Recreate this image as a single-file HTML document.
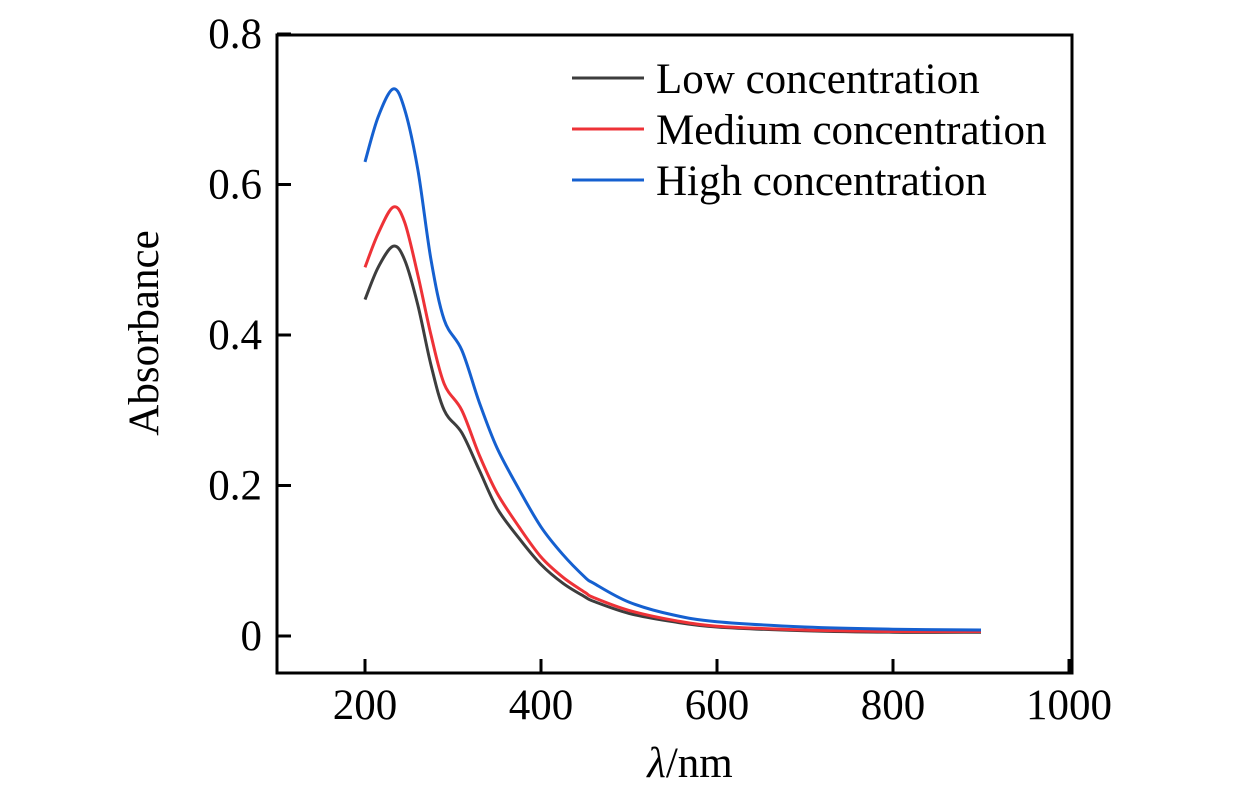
<!DOCTYPE html>
<html><head><meta charset="utf-8"><style>
body{margin:0;background:#fff}
svg{display:block;font-family:"Liberation Serif",serif}
</style></head><body>
<svg id="c" width="1260" height="787">
<g id="series"></g>
<rect x="277" y="35" width="795" height="638" fill="none" stroke="#000" stroke-width="3"/>
<g id="axes"></g>
<text x="158" y="333" font-size="43" text-anchor="middle" transform="rotate(-90 158 333)">Absorbance</text>
<text x="690" y="777" font-size="43" text-anchor="middle"><tspan font-style="italic">λ</tspan>/nm</text>
<g id="legend"></g>
</svg>
<script>
const xTicks=[200,400,600,800,1000];
const yTicks=[0,0.2,0.4,0.6,0.8];
const yTickLabels=["0","0.2","0.4","0.6","0.8"];
const seriesNames=["Low concentration","Medium concentration","High concentration"];
const seriesColors=["#3d3d3d","#ee3237","#1560d0"];
const wavelengths=[200,215,232,245,260,275,290,310,330,350,375,400,425,450,460,500,550,600,700,800,900];
const lowValues=[0.447,0.49,0.518,0.50,0.44,0.36,0.30,0.27,0.22,0.17,0.13,0.095,0.07,0.052,0.046,0.03,0.019,0.012,0.007,0.005,0.005];
const mediumValues=[0.49,0.535,0.57,0.55,0.48,0.40,0.335,0.30,0.24,0.19,0.145,0.105,0.078,0.058,0.051,0.034,0.021,0.013,0.008,0.006,0.006];
const highValues=[0.63,0.69,0.727,0.70,0.62,0.50,0.42,0.38,0.31,0.25,0.195,0.145,0.108,0.078,0.07,0.045,0.028,0.019,0.012,0.009,0.008];
const NS="http://www.w3.org/2000/svg";
const X=v=>365+(v-200)*0.88;
const Y=v=>636-v*752.5;
function mk(t,a,p){const e=document.createElementNS(NS,t);for(const k in a)e.setAttribute(k,a[k]);p.appendChild(e);return e;}
const axes=document.getElementById('axes');
xTicks.forEach(t=>{
  const l=mk('line',{x1:X(t),x2:X(t),y1:673,y2:659,stroke:'#000','stroke-width':3},axes);
  
  
  const tx=mk('text',{x:X(t),y:719,'font-size':43,'text-anchor':'middle'},axes);
  tx.textContent=t;
  
  
});
yTicks.forEach((t,i)=>{
  const l=mk('line',{x1:277,x2:291,y1:Y(t),y2:Y(t),stroke:'#000','stroke-width':3},axes);
  
  
  const tx=mk('text',{x:262,y:Y(t)+14,'font-size':43,'text-anchor':'end'},axes);
  tx.textContent=yTickLabels[i];
  
  
});
function smooth(pts){
  let d='M'+pts[0][0].toFixed(1)+','+pts[0][1].toFixed(1);
  for(let i=0;i<pts.length-1;i++){
    const p0=pts[Math.max(0,i-1)],p1=pts[i],p2=pts[i+1],p3=pts[Math.min(pts.length-1,i+2)];
    const c1=[p1[0]+(p2[0]-p0[0])/6,p1[1]+(p2[1]-p0[1])/6];
    const c2=[p2[0]-(p3[0]-p1[0])/6,p2[1]-(p3[1]-p1[1])/6];
    d+='C'+c1[0].toFixed(1)+','+c1[1].toFixed(1)+' '+c2[0].toFixed(1)+','+c2[1].toFixed(1)+' '+p2[0].toFixed(1)+','+p2[1].toFixed(1);
  }
  return d;
}
const sg=document.getElementById('series');
[lowValues,mediumValues,highValues].forEach((vals,i)=>{
  const pts=vals.map((v,j)=>[X(wavelengths[j]),Y(v)]);
  const p=mk('path',{d:smooth(pts),fill:'none',stroke:seriesColors[i],'stroke-width':3,'stroke-linejoin':'round'},sg);
  
  
});
const lg=document.getElementById('legend');
seriesNames.forEach((n,i)=>{
  const y=78+i*51;
  const l=mk('line',{x1:572,x2:644,y1:y,y2:y,stroke:seriesColors[i],'stroke-width':3},lg);
  
  
  const t=mk('text',{x:656,y:y+15,'font-size':43},lg);
  t.textContent=n;
  
  
});
</script>
</body></html>
